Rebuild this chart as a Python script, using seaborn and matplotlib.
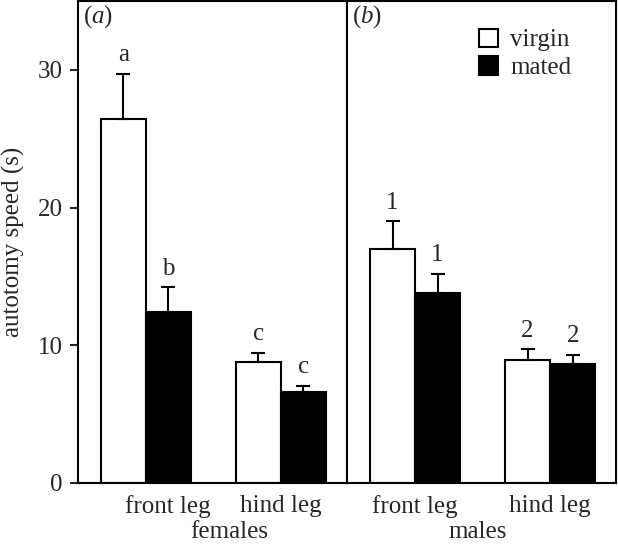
import matplotlib
matplotlib.use("Agg")
import matplotlib.pyplot as plt
from matplotlib.patches import Patch
import pandas as pd
import seaborn as sns

# ------------------------------------------------
# Data
# ------------------------------------------------

legs = ["front leg", "hind leg"]
status = ["virgin", "mated"]

female_virgin = [26.4, 8.75]
female_mated = [12.4, 6.6]
female_virgin_se = [3.3, 0.7]
female_mated_se = [1.8, 0.45]
female_letters = [["a", "c"], ["b", "c"]]

male_virgin = [16.95, 8.9]
male_mated = [13.8, 8.65]
male_virgin_se = [2.05, 0.8]
male_mated_se = [1.4, 0.65]
male_letters = [["1", "2"], ["1", "2"]]

y_ticks = [0, 10, 20, 30]

palette = {"virgin": "white", "mated": "black"}

FS = 18


def make_df(virgin, mated):
    return pd.DataFrame({
        "leg": legs * 2,
        "status": ["virgin"] * len(legs) + ["mated"] * len(legs),
        "speed": list(virgin) + list(mated),
    })


def draw_panel(ax, df, errs, letters, xlabel, tag):
    sns.barplot(
        data=df, x="leg", y="speed", hue="status", order=legs,
        hue_order=status, palette=palette, edgecolor="black",
        linewidth=1.5, width=0.667, errorbar=None, legend=False,
        saturation=1, ax=ax,
    )
    # one-sided error bars + significance letters
    for cont, err, lab in zip(ax.containers, errs, letters):
        for bar, e, t in zip(cont, err, lab):
            x = bar.get_x() + bar.get_width() / 2
            h = bar.get_height()
            ax.errorbar(x, h, yerr=[[0], [e]], fmt="none", ecolor="black",
                        elinewidth=1.5, capsize=5, capthick=1.5)
            ax.text(x, h + e + 0.55, t, ha="center", va="bottom", fontsize=FS)

    ax.set_xlim(-0.504, 1.489)
    ax.set_ylim(0, 35)
    ax.set_xlabel(xlabel, fontsize=FS)
    ax.tick_params(axis="x", length=0, pad=9, labelsize=FS)
    ax.text(0.02, 0.995, tag, transform=ax.transAxes, ha="left", va="top",
            fontsize=FS)
    for s in ax.spines.values():
        s.set_linewidth(1.5)
        s.set_color("black")


def main():
    sns.set_style("ticks")
    plt.rcParams["font.family"] = ["Liberation Serif", "DejaVu Serif"]
    plt.rcParams["font.size"] = FS
    plt.rcParams["mathtext.fontset"] = "custom"
    plt.rcParams["mathtext.it"] = "Liberation Serif:italic"
    plt.rcParams["mathtext.rm"] = "Liberation Serif"

    fig, (ax1, ax2) = plt.subplots(1, 2, figsize=(6.18, 5.47), dpi=100,
                                   sharey=True)
    fig.subplots_adjust(left=0.126, right=0.997, top=0.998, bottom=0.1175,
                        wspace=0)

    draw_panel(ax1, make_df(female_virgin, female_mated),
               [female_virgin_se, female_mated_se], female_letters,
               "females", "($a$)")
    draw_panel(ax2, make_df(male_virgin, male_mated),
               [male_virgin_se, male_mated_se], male_letters,
               "males", "($b$)")

    # the original sets the left "front leg" label a bit right of its bars
    ax1.set_xticks([0.16, 1], legs)
    ax1.xaxis.set_label_coords(0.563, -0.079)
    ax2.xaxis.set_label_coords(0.487, -0.079)

    ax1.set_yticks(y_ticks)
    ax1.set_ylabel("autotomy speed (s)", labelpad=9, fontsize=FS)
    ax1.tick_params(axis="y", length=6, width=1.5, pad=5, labelsize=FS)
    ax2.set_ylabel("")
    ax2.tick_params(axis="y", left=False, labelleft=False)

    handles = [Patch(facecolor=palette[s], edgecolor="black", linewidth=1.5,
                     label=s) for s in status]
    ax2.legend(handles=handles, loc="upper left", frameon=False,
               bbox_to_anchor=(0.49, 0.943), handlelength=0.76,
               handleheight=0.76, handletextpad=0.5, labelspacing=0.2,
               fontsize=FS, borderaxespad=0, borderpad=0)

    plt.savefig("out.png", dpi=100)


if __name__ == "__main__":
    main()
